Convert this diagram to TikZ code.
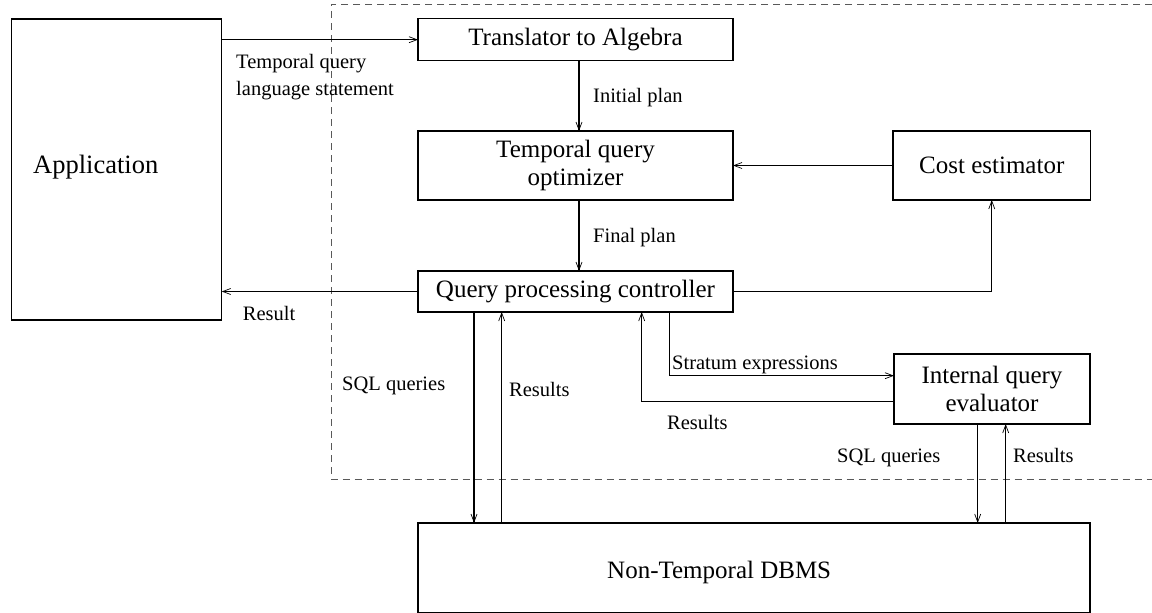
\documentclass[tikz,border=0pt]{standalone}
\usepackage{fontspec}
\setmainfont{Liberation Serif}
\usetikzlibrary{arrows.meta,calc}
\begin{document}
\begin{tikzpicture}[x=1pt,y=-1pt,
  box/.style={draw,line width=1.2pt,inner sep=0pt,outer sep=0pt,anchor=north west,align=center,
    font=\fontsize{25}{28}\selectfont},
  boxtext/.style={inner sep=0pt,anchor=base west,font=\fontsize{25}{28}\selectfont},
  lbl/.style={inner sep=0pt,anchor=base west,font=\fontsize{20.5}{26.7}\selectfont,align=left},
  conn/.style={line width=1.1pt},
  arr/.style={conn,-{Straight Barb[length=8pt,width=6pt,line width=0.7pt]}},
  frame/.style={line width=0.8pt,black!65,dash pattern=on 7pt off 5pt}
]
\useasboundingbox (0,0) rectangle (1152,613);
% dashed frame
\draw[frame] (1152,4) -- (331,4) -- (331,479.3) -- (1152,479.3);
% boxes
\node[box,minimum width=210pt,minimum height=301pt] (app) at (11.7,19) {};
\node[boxtext,font=\fontsize{26.5}{30}\selectfont] (apptext) at (33,173.3) {Application};
\node[box,minimum width=315pt,minimum height=42pt] (trans) at (418,18.7) {Translator to Algebra};
\node[box,minimum width=315pt,minimum height=69pt] (opt) at (418,131) {Temporal query\\optimizer};
\node[box,minimum width=197.5pt,minimum height=69pt] (cost) at (893,131) {Cost estimator};
\node[box,minimum width=315pt,minimum height=41pt] (qpc) at (418,271) {Query processing controller};
\node[box,minimum width=196pt,minimum height=70pt] (iqe) at (894,354) {Internal query\\evaluator};
\node[box,minimum width=672pt,minimum height=89.5pt] (db) at (418,523) {};
\node[boxtext] (dbtext) at (607,578.3) {Non-Temporal DBMS};
% helper coordinates
\coordinate (iqeIn) at ([yshift=13.3pt]iqe.west);
\coordinate (iqeOut) at ([yshift=-12.7pt]iqe.west);
% connectors
\draw[arr] (app.east |- trans.west) -- (trans.west);
\draw[arr] ([xshift=3.5pt]trans.south) -- ([xshift=3.5pt]opt.north);
\draw[arr] (cost.west) -- (opt.east);
\draw[arr] ([xshift=3.5pt]opt.south) -- ([xshift=3.5pt]qpc.north);
\draw[arr] (qpc.west) -- (app.east |- qpc.west);
\draw[arr] (qpc.east) -- (cost.south |- qpc.east) -- (cost.south);
\draw[arr] ([xshift=-101.5pt]qpc.south) -- ([xshift=-101.5pt]qpc.south |- db.north);
\draw[arr] ([xshift=-73.8pt]qpc.south |- db.north) -- ([xshift=-73.8pt]qpc.south);
\draw[arr] ([xshift=93.8pt]qpc.south) -- ([xshift=93.8pt]qpc.south |- iqeIn) -- (iqeIn);
\draw[arr] (iqeOut) -- ([xshift=66.2pt]qpc.south |- iqeOut) -- ([xshift=66.2pt]qpc.south);
\draw[arr] ([xshift=-14.3pt]iqe.south) -- ([xshift=-14.3pt]iqe.south |- db.north);
\draw[arr] ([xshift=13.7pt]iqe.south |- db.north) -- ([xshift=13.7pt]iqe.south);
% labels
\node[lbl] (l1) at (236,95) {Temporal query\\language statement};
\node[lbl] (l2) at (593,102.7) {Initial plan};
\node[lbl] (l3) at (593,242.7) {Final plan};
\node[lbl] (l4) at (242.7,320) {Result};
\node[lbl] (l5) at (342,390) {SQL queries};
\node[lbl] (l6) at (509,396.7) {Results};
\node[lbl] (l7) at (672,369) {Stratum expressions};
\node[lbl] (l8) at (667,429) {Results};
\node[lbl] (l9) at (837,462.7) {SQL queries};
\node[lbl] (l10) at (1013,462.7) {Results};
\end{tikzpicture}
\end{document}
